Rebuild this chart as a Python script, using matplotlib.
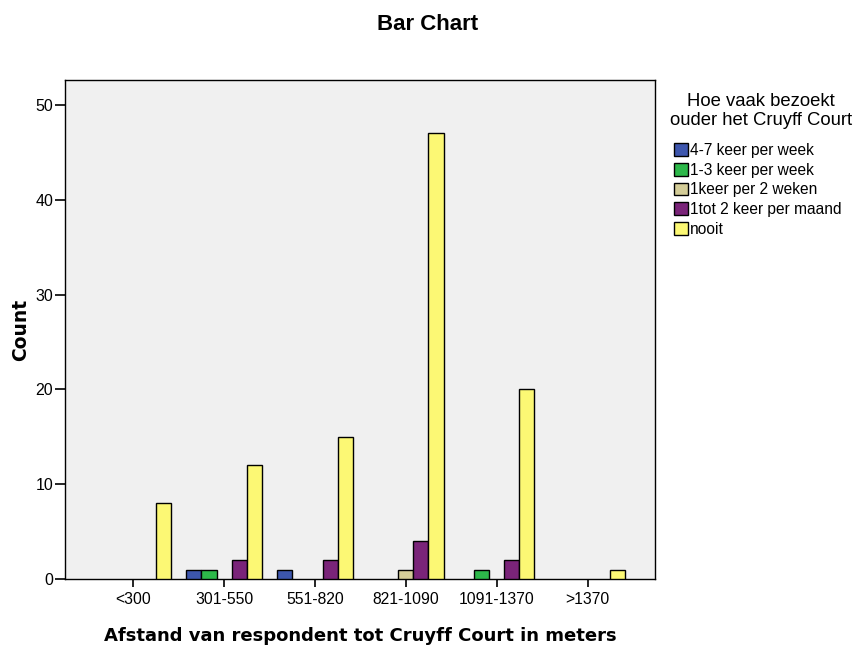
# SPSS style clustered bar chart: visits to Cruyff Court by distance
import numpy as np
import matplotlib.pyplot as plt

plt.rcParams['font.family'] = ['Liberation Sans', 'DejaVu Sans']

# distance categories (x axis)
categories = ['<300', '301-550', '551-820', '821-1090', '1091-1370', '>1370']

# series (legend entries) and their counts per category
series_names = ['4-7 keer per week', '1-3 keer per week', '1keer per 2 weken',
                '1tot 2 keer per maand', 'nooit']
week_4_7 = [0, 1, 1, 0, 0, 0]
week_1_3 = [0, 1, 0, 0, 1, 0]
per_2_weken = [0, 0, 0, 1, 0, 0]
per_maand = [0, 2, 2, 4, 2, 0]
nooit = [8, 12, 15, 47, 20, 1]
series_values = [week_4_7, week_1_3, per_2_weken, per_maand, nooit]

colors = ['#3d56ad', '#2db84a', '#d4cd98', '#7a2479', '#fcf874']

fig = plt.figure(figsize=(8.55, 6.46), dpi=100)
ax = fig.add_axes([0.076, 0.1037, 0.69, 0.772])
ax.set_facecolor('#f0f0f0')

x = np.arange(len(categories))
w = 0.166
for i, (name, vals) in enumerate(zip(series_names, series_values)):
    vals = np.array(vals)
    keep = vals > 0  # SPSS draws nothing for empty cells
    ax.bar(x[keep] + (i - 2) * w, vals[keep], width=w, color=colors[i],
           edgecolor='black', linewidth=1.0, label=name, zorder=3)

ax.set_xlim(-0.75, len(categories) - 0.26)
ax.set_ylim(0, 52.6)
ax.set_xticks(x)
ax.set_xticklabels(categories, fontsize=11.3)
ax.set_yticks([0, 10, 20, 30, 40, 50])
ax.tick_params(axis='y', labelsize=11.5, length=7, width=1.2, pad=1.5)
ax.tick_params(axis='x', length=6, width=1.2, pad=3.5)
for s in ax.spines.values():
    s.set_linewidth(1.0)

ax.set_ylabel('Count', fontsize=13.5, fontweight='bold', labelpad=4,
              family='DejaVu Sans')
ax.set_xlabel('Afstand van respondent tot Cruyff Court in meters', fontsize=13,
              fontweight='bold', labelpad=14, family='DejaVu Sans')
fig.suptitle('Bar Chart', x=0.5, y=0.979, fontsize=16, fontweight='bold')

# legend title as separate text so the gap to the entries matches
fig.text(761 / 855, 1 - 111 / 646, 'Hoe vaak bezoekt\nouder het Cruyff Court',
         ha='center', va='center', fontsize=13.3, linespacing=1.1,
         multialignment='center')
leg = ax.legend(loc='upper left', bbox_to_anchor=(674 / 855, 1 - 143 / 646),
                bbox_transform=fig.transFigure, frameon=False,
                fontsize=11.2, handlelength=0.9, handleheight=0.9,
                handletextpad=0.15, labelspacing=0.3, borderpad=0, borderaxespad=0)

fig.savefig('out.png', dpi=100)
